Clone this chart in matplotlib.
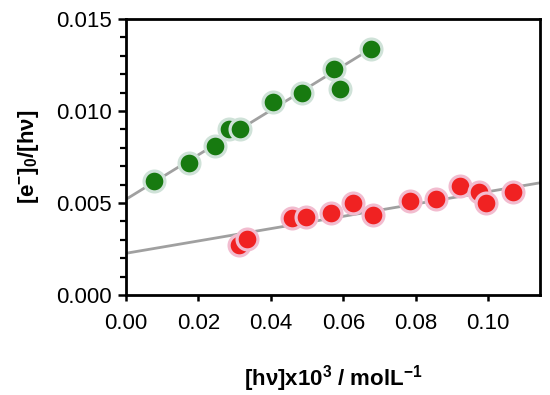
import matplotlib
matplotlib.use("Agg")
import matplotlib.pyplot as plt
import numpy as np
from matplotlib.ticker import MultipleLocator, FormatStrFormatter

# green series
green_x = [0.0077, 0.0175, 0.0246, 0.0285, 0.0314, 0.0406, 0.0485, 0.0574, 0.0592, 0.0675]
green_y = [0.0062, 0.00716, 0.0081, 0.0090, 0.0090, 0.0105, 0.01097, 0.01228, 0.0112, 0.01337]

# red series
red_x = [0.0313, 0.0335, 0.0457, 0.0498, 0.0567, 0.0627, 0.0681, 0.0785, 0.0855,
         0.0921, 0.0975, 0.0995, 0.1067]
red_y = [0.00272, 0.00303, 0.00417, 0.00426, 0.00448, 0.00502, 0.00435, 0.00513,
         0.00522, 0.00593, 0.00562, 0.00498, 0.00562]

# fitted lines (intercept, slope)
green_fit = (0.0052, 0.121)
red_fit = (0.00227, 0.0335)

plt.rcParams["font.family"] = ["Liberation Sans", "DejaVu Sans"]
plt.rcParams["mathtext.fontset"] = "custom"
plt.rcParams["mathtext.rm"] = "Liberation Sans:bold"
plt.rcParams["mathtext.bf"] = "Liberation Sans:bold"
plt.rcParams["mathtext.it"] = "Liberation Sans:bold"

fig = plt.figure(figsize=(5.5, 3.95), dpi=100)
ax = fig.add_axes([0.229, 0.253, 0.753, 0.699])

xmax = 0.1143
gx = np.array([0.0, green_x[-1]])
ax.plot(gx, green_fit[0] + green_fit[1] * gx, color="#a0a0a0", lw=2.0, zorder=1)
rx = np.array([0.0, xmax])
ax.plot(rx, red_fit[0] + red_fit[1] * rx, color="#a0a0a0", lw=2.0, zorder=1)

ax.scatter(green_x, green_y, s=225, c="#177a10", edgecolors="#cfe2d8", linewidths=2.3, zorder=3)
ax.scatter(red_x, red_y, s=225, c="#f02222", edgecolors="#f2bccf", linewidths=2.3, zorder=3)

ax.set_xlim(0, xmax)
ax.set_ylim(0, 0.015)
ax.xaxis.set_major_locator(MultipleLocator(0.02))
ax.yaxis.set_major_locator(MultipleLocator(0.005))
ax.yaxis.set_minor_locator(MultipleLocator(0.001))
ax.xaxis.set_major_formatter(FormatStrFormatter("%.2f"))
ax.yaxis.set_major_formatter(FormatStrFormatter("%.3f"))

for s in ax.spines.values():
    s.set_linewidth(2.0)
ax.tick_params(axis="x", which="major", direction="out", length=4, width=1.8,
               labelsize=16, pad=9)
ax.tick_params(axis="y", which="major", direction="out", length=6, width=1.8,
               labelsize=16, pad=4)
ax.tick_params(axis="y", which="minor", direction="out", length=4, width=1.6)

ax.set_xlabel("[hν]x10$^{3}$ / molL$^{-1}$", fontsize=16, fontweight="bold", labelpad=21)
ax.set_ylabel("[e$^{-}$]$_{0}$/[hν]", fontsize=16, fontweight="bold", labelpad=11)

fig.savefig("out.png", dpi=100)
